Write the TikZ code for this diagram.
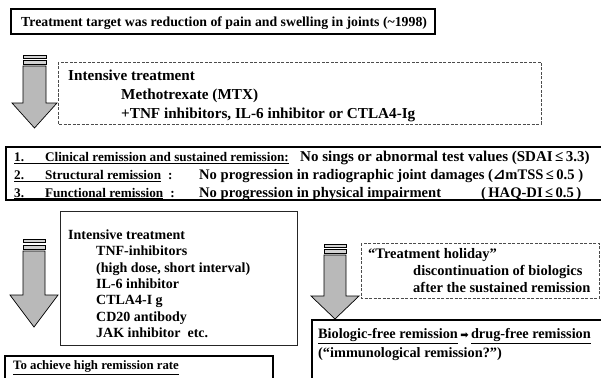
\documentclass[tikz,border=0pt]{standalone}
\usepackage{fontspec}
\setmainfont{Liberation Serif}
\newfontfamily\symfont{DejaVu Sans}
\begin{document}
\begin{tikzpicture}[x=1pt,y=-1pt,
  txt/.style={inner sep=0pt, anchor=base west, font=\fontsize{#1}{14}\selectfont\bfseries},
  txt/.default=14,
  thickbox/.style={draw=black, line width=2.6pt},
  dashbox/.style={draw=black!70, line width=0.6pt, dash pattern=on 3pt off 1.5pt},
  thinbox/.style={draw=black!85, line width=0.8pt},
  midbox/.style={draw=black, line width=1.4pt},
  arrowbody/.style={draw=black, line width=0.7pt, fill=gray!55},
  stripe/.style={draw=black, line width=0.7pt, fill=gray!35}]
\useasboundingbox (0,0) rectangle (601,377);
\fill[white] (0,0) rectangle (601,377);

% top box
\draw[thickbox] (11,9) rectangle (435,34);
\node[txt=13.8] (t0) at (21,26.5) {Treatment target was reduction of pain and swelling in joints (\textasciitilde1998)};

% arrow 1
\draw[stripe] (23,55) rectangle (46,58);
\draw[stripe] (23,60) rectangle (46,64);
\draw[arrowbody] (23,66) -- (46,66) -- (46,103) -- (57,103) -- (34.5,128) -- (12,103) -- (23,103) -- cycle;

% dashed box 1
\draw[dashbox] (58,62) rectangle (541,124);
\node[txt=15.2] (i1) at (68,81) {Intensive treatment};
\node[txt=15.2] (i2) at (121,99.5) {Methotrexate (MTX)};
\node[txt=15.2] (i3) at (121,118) {+TNF inhibitors, IL-6 inhibitor or CTLA4-Ig};

% box 2
\draw[thickbox] (6,147) rectangle (603,200);
\node[txt=13.2] (r1) at (14,161.5) {\underline{1.\hspace{21pt}Clinical remission and sustained remission:}};
\node[txt=15] (r1b) at (300,161.5) {No sings or abnormal test values (SDAI\,≤\,3.3)};
\node[txt=13.2] (r2) at (14,179.5) {\underline{2.\hspace{21pt}Structural remission}\hspace{7pt}:};
\node[txt=14.6] (r2b) at (199,179.5) {No progression in radiographic joint damages ({\symfont ⊿}mTSS\,≤\,0.5 )};
\node[txt=13.2] (r3) at (14,197) {\underline{3.\hspace{21pt}Functional remission}\hspace{7pt}:};
\node[txt=14.6] (r3b) at (199,197) {No progression in physical impairment};
\node[txt=14.6, anchor=base east] (r3c) at ([xshift=-2pt]r2b.base east |- r3b.base) {(\,HAQ-DI\,≤\,0.5\,)};

% arrow 2
\draw[stripe] (23,239) rectangle (45,242.5);
\draw[stripe] (23,245) rectangle (45,249);
\draw[arrowbody] (23,251) -- (45,251) -- (45,295) -- (58,295) -- (34,327) -- (10,295) -- (23,295) -- cycle;

% box 3
\draw[thinbox] (60,211) rectangle (297,345);
\node[txt] (b1) at (68,239) {Intensive treatment};
\node[txt] (b2) at (96,255.5) {TNF-inhibitors};
\node[txt] (b3) at (96,272) {(high dose, short interval)};
\node[txt] (b4) at (96,288) {IL-6 inhibitor};
\node[txt] (b5) at (96,304.5) {CTLA4-I g};
\node[txt] (b6) at (96,321) {CD20 antibody};
\node[txt] (b7) at (96,337) {JAK inhibitor\ \ etc.};

% to achieve box
\draw[midbox] (5,380) -- (5,356) -- (273,356) -- (273,380);
\node[txt=12.8] (a1) at (13,369.5) {\underline{To achieve high remission rate}};

% arrow 3
\draw[stripe] (324,244) rectangle (346,247.5);
\draw[stripe] (324,249.5) rectangle (346,253);
\draw[arrowbody] (324,255) -- (346,255) -- (346,296) -- (359,296) -- (335,319) -- (311,296) -- (324,296) -- cycle;

% holiday box
\draw[dashbox] (361,243) rectangle (599,298);
\node[txt=14.5] (h1) at (368,258) {“Treatment holiday”};
\node[txt=14.5] (h2) at (413,275) {discontinuation of biologics};
\node[txt=14.5] (h3) at (413,292) {after the sustained remission};

% biologic-free box
\draw[midbox] (312,380) -- (312,320) -- (605,320);
\node[txt=14.3] (f1) at (318,338.5) {\underline{Biologic-free remission}\,{\symfont\fontsize{10}{12}\selectfont ➡}\,\underline{drug-free remission}};
\node[txt=14.3] (f2) at (318,357.5) {(“immunological remission?”)};
\end{tikzpicture}
\end{document}
